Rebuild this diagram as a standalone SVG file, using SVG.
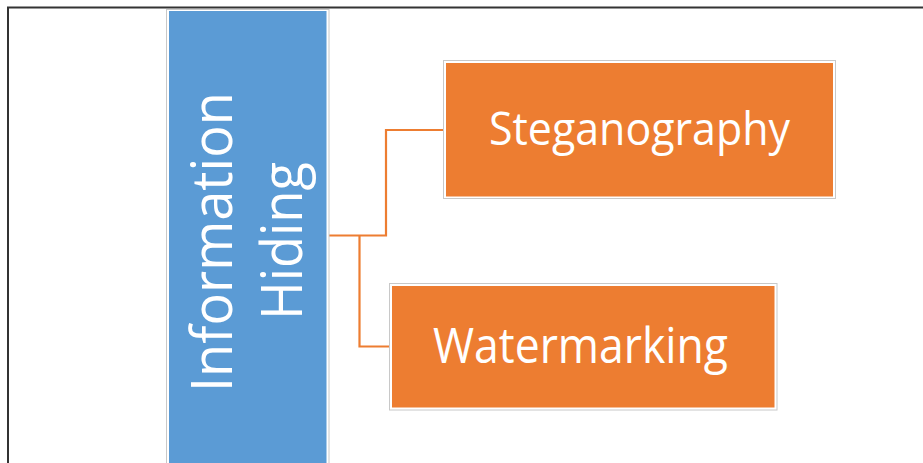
<svg xmlns="http://www.w3.org/2000/svg" width="923" height="463" viewBox="0 0 923 463">
  <style>
    .frame { fill: none; stroke: #333333; stroke-width: 2; }
    .outline { fill: #ffffff; stroke: #c8c8c8; stroke-width: 1; }
    .blue { fill: #5B9BD5; }
    .orange { fill: #ED7D31; }
    .link { fill: none; stroke: #ED7D31; stroke-width: 2.2; stroke-linejoin: miter; }
    .label { fill: #ffffff; font-family: "Open Sans", "Noto Sans", "Liberation Sans", sans-serif; text-anchor: middle; }
  </style>

  <rect x="0" y="0" width="923" height="463" fill="#ffffff"/>

  <!-- page frame -->
  <path class="frame" d="M8,463 V7.5 H923"/>

  <!-- connectors -->
  <g id="connectors">
    <path class="link" d="M327,235.5 H386 V130 H444"/>
    <path class="link" d="M359.5,235.5 V346.5 H390"/>
  </g>

  <!-- root node -->
  <g id="node-information-hiding">
    <rect class="outline" x="166.5" y="9.5" width="162.5" height="460"/>
    <rect class="blue" x="169" y="11" width="157.5" height="460"/>
    <text class="label" font-size="56" textLength="300" lengthAdjust="spacingAndGlyphs" transform="translate(231.7,242) rotate(-90)">Information</text>
    <text class="label" font-size="56" textLength="158" lengthAdjust="spacingAndGlyphs" transform="translate(301.7,241) rotate(-90)">Hiding</text>
  </g>

  <!-- child nodes -->
  <g id="node-steganography">
    <rect class="outline" x="443.5" y="60.5" width="392" height="138"/>
    <rect class="orange" x="446" y="63" width="387" height="133.5"/>
    <text class="label" x="639.5" y="145" font-size="45.5" textLength="301" lengthAdjust="spacingAndGlyphs">Steganography</text>
  </g>

  <g id="node-watermarking">
    <rect class="outline" x="389.5" y="283.5" width="387.5" height="126.5"/>
    <rect class="orange" x="392" y="286" width="382.5" height="121.5"/>
    <text class="label" x="580.5" y="363" font-size="49" textLength="295" lengthAdjust="spacingAndGlyphs">Watermarking</text>
  </g>
</svg>
